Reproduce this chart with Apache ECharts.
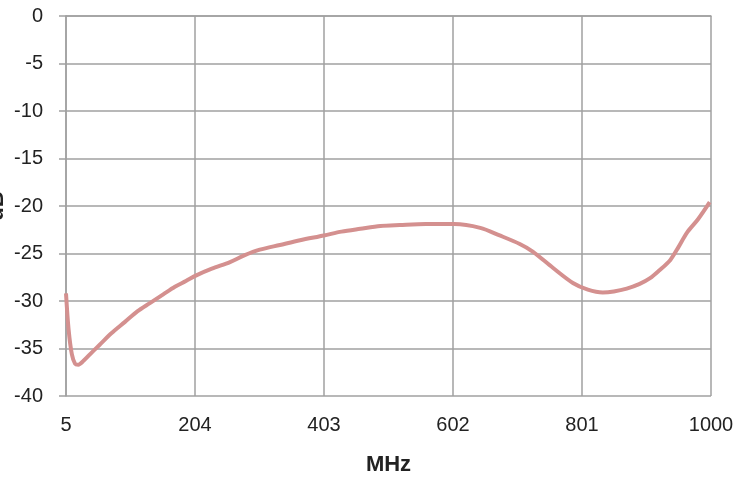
<!DOCTYPE html>
<html><head><meta charset="utf-8">
<script src="https://cdn.jsdelivr.net/npm/echarts@6/dist/echarts.min.js"></script>
<style>html,body{margin:0;padding:0;background:#fff}#c{width:738px;height:480px}</style>
</head><body><div id="c"></div>
<script>
var freqMHz = [5, 9, 14, 19, 24, 32, 45, 57, 75, 96, 115, 135, 155, 173, 190, 206, 230, 258, 280, 304, 335, 366, 403, 430, 459, 490, 520, 560, 604, 644, 674, 705, 725, 756, 787, 810, 833, 850, 870, 890, 906, 920, 937, 950, 963, 980, 998];
var gainDB = [-29.2, -33.0, -35.6, -36.6, -36.7, -36.3, -35.4, -34.6, -33.4, -32.2, -31.1, -30.2, -29.3, -28.5, -27.9, -27.3, -26.6, -25.9, -25.2, -24.6, -24.1, -23.6, -23.1, -22.7, -22.4, -22.1, -22.0, -21.9, -21.9, -22.3, -23.1, -24.0, -24.8, -26.5, -28.1, -28.8, -29.1, -29.0, -28.7, -28.2, -27.6, -26.8, -25.7, -24.3, -22.8, -21.4, -19.6];
var xTickLabels = ['5', '204', '403', '602', '801', '1000'];
var yTicks = [0, -5, -10, -15, -20, -25, -30, -35, -40];
var yAxisTitle = 'dB';
var X0 = 5;

var chart = echarts.init(document.getElementById('c'), null, {renderer: 'canvas'});
var pts = freqMHz.map(function (f, i) { return [f - X0, gainDB[i]]; });
var font = 'Liberation Sans';
var gridCol = '#a0a0a0';
chart.setOption({
  animation: false,
  grid: {left: 66, right: 27, top: 16, bottom: 84, containLabel: false, outerBoundsMode: 'none'},
  graphic: [{
    type: 'text', x: 8, y: 206, rotation: Math.PI / 2, silent: true,
    style: {text: yAxisTitle, font: 'bold 22px "Liberation Sans"', fill: '#222', align: 'center', verticalAlign: 'bottom'}
  }],
  xAxis: {
    type: 'value', min: 0, max: 995, interval: 199,
    name: 'MHz', nameLocation: 'middle', nameGap: 58, nameMoveOverlap: false,
    nameTextStyle: {fontFamily: font, fontSize: 22, fontWeight: 'bold', color: '#222'},
    axisLine: {show: true, lineStyle: {color: gridCol, width: 1.5}},
    axisTick: {show: false},
    splitLine: {show: true, lineStyle: {color: gridCol, width: 1.5}},
    axisLabel: {margin: 19, fontFamily: font, fontSize: 20, color: '#222',
      formatter: function (v) { var i = Math.round(v / 199); return xTickLabels[i]; }}
  },
  yAxis: {
    type: 'value', min: -40, max: 0, interval: 5,
    axisLine: {show: true, lineStyle: {color: gridCol, width: 1.5}},
    axisTick: {show: true, length: 7, inside: false, lineStyle: {color: gridCol, width: 1.5}},
    splitLine: {show: true, lineStyle: {color: gridCol, width: 1.5}},
    axisLabel: {margin: 23, fontFamily: font, fontSize: 20, color: '#222'}
  },
  series: [{
    type: 'line', data: pts, smooth: 0.3, showSymbol: false,
    lineStyle: {color: '#d4908f', width: 4}
  }]
});
</script></body></html>
